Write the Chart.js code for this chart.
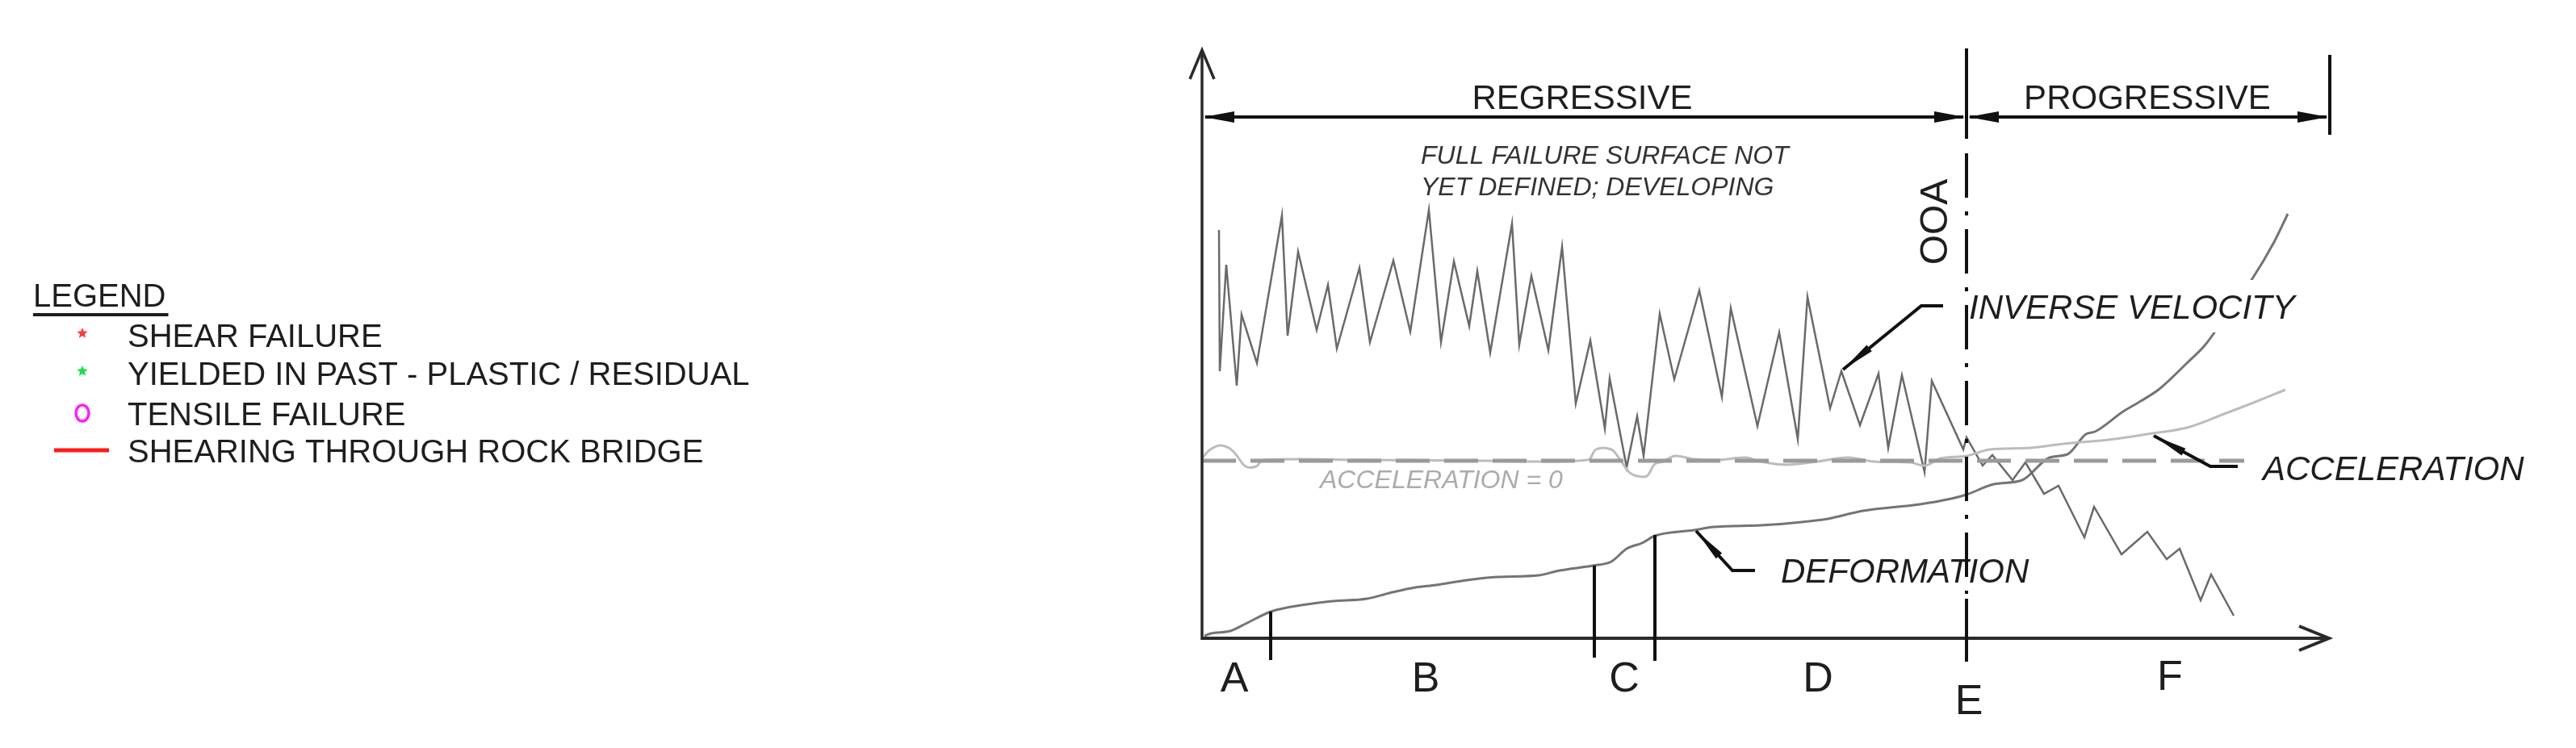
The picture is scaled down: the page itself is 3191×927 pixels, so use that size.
<!DOCTYPE html>
<html><head><meta charset="utf-8">
<script src="https://cdn.jsdelivr.net/npm/chart.js@4/dist/chart.umd.min.js"></script>
<style>html,body{margin:0;padding:0;background:#fff}#wrap{width:3191px;height:927px}</style>
</head><body><div id="wrap"><canvas id="c" width="3191" height="927"></canvas></div>
<script>
// ---- data (time units on x, relative magnitude on y) ----
const invVelT = [21,22,30,43,49,68,99,106,119,142,156,167,195,208,237,258,281,296,312,331,341,357,384,393,408,429,446,463,481,499,505,526,539,547,567,585,616,644,655,688,715,738,750,778,792,815,838,850,867,895,904,943,947,967,979,1004,1020,1043,1061,1093,1105,1139,1171,1195,1211,1237,1250,1278];
const invVelV = [506,331,463,313,401,341,524,375,479,382,438,359,459,367,468,380,531,367,467,387,455,354,514,364,449,357,485,291,369,260,322,212,275,226,402,321,431,299,409,263,379,247,423,285,331,264,328,236,326,206,319,234,249,214,227,196,218,179,189,125,163,104,132,98,111,47,79,28];

const deformT = [3,11,35,54,85,105,137,162,204,232,264,290,328,366,417,443,484,507,526,545,561,609,634,692,743,775,819,889,928,947,981,1016,1050,1072,1095,1106,1141,1163,1186,1220,1243,1276,1300,1328,1345];
const deformV = [3,6,9,18,33,38,43,46,49,56,63,66,72,76,78,84,90,95,111,118,127,134,138,140,144,148,158,166,173,178,191,196,224,228,253,256,281,294,309,341,364,411,444,491,526];

const accelT = [0,9,22,33,41,54,67,76,200,350,478,488,507,516,529,539,551,561,571,586,609,641,673,692,724,762,800,832,877,896,915,947,976,1027,1067,1123,1177,1220,1266,1305,1342];
const accelV = [223,233,239,236,229,213,213,221,221,220,221,234,234,224,206,201,201,216,219,226,222,221,224,219,215,219,224,219,218,214,223,226,234,236,241,246,254,261,278,293,308];

const zeroT = [0,1291];
const zeroV = [220,220];

const phaseLabels = ['A','B','C','D','E','F'];
const phaseLabelT = [40,277,523,763,950,1199];
const phaseLabelV = [-66,-66,-66,-66,-94,-64];
const phaseBoundT = [85,486,561,947];
const phaseBoundTop = [33,90,128,49];
const phaseBoundBottom = [-27,-24,-28,-29];
const ooaT = 947, progressEndT = 1397;

const legendLabels = ['SHEAR FAILURE','YIELDED IN PAST - PLASTIC / RESIDUAL','TENSILE FAILURE','SHEARING THROUGH ROCK BRIDGE'];
const legendColors = ['#ff3b3b','#19e04a','#ff1cff','#ff1a1a'];
const legendMarkers = ['star','star','circle','line'];

// ---- helpers ----
const FONT = '"Liberation Sans", Arial, Helvetica, sans-serif';
const pts = (t,v)=>t.map((a,i)=>({x:a,y:v[i]}));

function filledHead(ctx, tx, ty, fx, fy, len, hw){
  const a = Math.atan2(ty-fy, tx-fx);
  ctx.beginPath();
  ctx.moveTo(tx,ty);
  ctx.lineTo(tx - len*Math.cos(a) + hw*Math.sin(a), ty - len*Math.sin(a) - hw*Math.cos(a));
  ctx.lineTo(tx - len*Math.cos(a) - hw*Math.sin(a), ty - len*Math.sin(a) + hw*Math.cos(a));
  ctx.closePath(); ctx.fill();
}
function star(ctx, cx, cy, r, color){
  ctx.fillStyle=color; ctx.beginPath();
  for(let i=0;i<10;i++){
    const rr = i%2===0 ? r : r*0.45;
    const a = -Math.PI/2 + i*Math.PI/5;
    const px = cx + rr*Math.cos(a), py = cy + rr*Math.sin(a);
    i===0?ctx.moveTo(px,py):ctx.lineTo(px,py);
  }
  ctx.closePath(); ctx.fill();
}

const annot = {
  id:'annot',
  afterDatasetsDraw(chart){
    const {ctx, scales:{x,y}} = chart;
    const X = v=>x.getPixelForValue(v), Y = v=>y.getPixelForValue(v);
    ctx.save();
    ctx.lineCap='butt';

    // ---- INVERSE VELOCITY label with white background ----
    ctx.font = 'italic 42px '+FONT;
    const ivW = ctx.measureText('INVERSE VELOCITY').width;
    ctx.fillStyle='#fff';
    ctx.fillRect(X(950)-6, Y(444), ivW+14, Y(379)-Y(444));
    ctx.fillStyle='#1e1e1e'; ctx.textBaseline='alphabetic'; ctx.textAlign='left';
    ctx.fillText('INVERSE VELOCITY', X(950), Y(396));

    // other labels
    ctx.fillText('ACCELERATION', X(1314), Y(196));
    ctx.fillText('DEFORMATION', X(717), Y(69));
    ctx.font = 'italic 32px '+FONT; ctx.fillStyle='#333';
    ctx.fillText('FULL FAILURE SURFACE NOT', X(271), Y(588));
    ctx.fillText('YET DEFINED; DEVELOPING', X(271), Y(549));
    ctx.fillStyle='#ababab';
    ctx.fillText('ACCELERATION = 0', X(146), Y(186));

    // leaders
    ctx.strokeStyle='#111'; ctx.fillStyle='#111'; ctx.lineWidth=4;
    const leader = (p)=>{ ctx.beginPath(); ctx.moveTo(X(p[0][0]),Y(p[0][1]));
      for(let i=1;i<p.length;i++) ctx.lineTo(X(p[i][0]),Y(p[i][1])); ctx.stroke();
      filledHead(ctx, X(p[p.length-1][0]),Y(p[p.length-1][1]), X(p[p.length-2][0]),Y(p[p.length-2][1]), 42, 5); };
    leader([[918,412],[891,412],[794,333]]);
    leader([[1283,213],[1249,213],[1179,251]]);
    leader([[685,84],[657,84],[612,133]]);

    // axes
    ctx.strokeStyle='#2a2a2a'; ctx.lineWidth=4;
    ctx.beginPath(); ctx.moveTo(X(0),Y(0)); ctx.lineTo(X(1396),Y(0)); ctx.stroke();
    ctx.beginPath(); ctx.moveTo(X(1396)-37,Y(0)-15); ctx.lineTo(X(1396),Y(0)); ctx.lineTo(X(1396)-37,Y(0)+15); ctx.stroke();
    ctx.lineWidth=3.5;
    ctx.beginPath(); ctx.moveTo(X(0),Y(0)+2); ctx.lineTo(X(0),Y(729)); ctx.stroke();
    ctx.beginPath(); ctx.moveTo(X(0)-15,Y(729)+36); ctx.lineTo(X(0),Y(729)); ctx.lineTo(X(0)+15,Y(729)+36); ctx.stroke();

    // phase boundary ticks
    ctx.strokeStyle='#111'; ctx.lineWidth=4;
    phaseBoundT.forEach((t,i)=>{ ctx.beginPath(); ctx.moveTo(X(t),Y(phaseBoundTop[i])); ctx.lineTo(X(t),Y(phaseBoundBottom[i])); ctx.stroke(); });

    // OOA line (solid top then dash-dot)
    ctx.beginPath(); ctx.moveTo(X(ooaT),Y(731)); ctx.lineTo(X(ooaT),Y(619)); ctx.stroke();
    ctx.setLineDash([55,17,5,17]);
    ctx.beginPath(); ctx.moveTo(X(ooaT),Y(601)); ctx.lineTo(X(ooaT),Y(55)); ctx.stroke();
    ctx.setLineDash([]);

    // dimension arrows
    ctx.lineWidth=4;
    const dimY = Y(646);
    ctx.beginPath(); ctx.moveTo(X(0)+4,dimY); ctx.lineTo(X(ooaT)-4,dimY); ctx.stroke();
    ctx.beginPath(); ctx.moveTo(X(ooaT)+4,dimY); ctx.lineTo(X(progressEndT)-4,dimY); ctx.stroke();
    filledHead(ctx, X(0)+2,dimY, X(100),dimY, 38, 7);
    filledHead(ctx, X(ooaT)-2,dimY, X(800),dimY, 38, 7);
    filledHead(ctx, X(ooaT)+2,dimY, X(1100),dimY, 38, 7);
    filledHead(ctx, X(progressEndT)-2,dimY, X(1200),dimY, 38, 7);
    ctx.beginPath(); ctx.moveTo(X(progressEndT),Y(723)); ctx.lineTo(X(progressEndT),Y(624)); ctx.stroke();

    ctx.fillStyle='#1e1e1e'; ctx.textAlign='center'; ctx.textBaseline='alphabetic';
    ctx.font='42px '+FONT;
    ctx.fillText('REGRESSIVE', X(471), Y(656));
    ctx.fillText('PROGRESSIVE', X(1171), Y(656));

    // OOA rotated
    ctx.save(); ctx.font='48px '+FONT; ctx.translate(X(906)+17, Y(516)); ctx.rotate(-Math.PI/2);
    ctx.textAlign='center'; ctx.fillText('OOA',0,0); ctx.restore();

    // phase letters
    ctx.font='52px '+FONT; ctx.textAlign='center';
    phaseLabels.forEach((l,i)=>ctx.fillText(l, X(phaseLabelT[i]), Y(phaseLabelV[i])));

    // ---- legend (left) ----
    ctx.textAlign='left'; ctx.fillStyle='#1e1e1e';
    ctx.font='40px '+FONT;
    ctx.fillText('LEGEND', 41, 380);
    const lw = ctx.measureText('LEGEND').width;
    ctx.fillRect(41, 388, lw+3, 4);
    const rowY = [430,477,527,573];
    legendLabels.forEach((lab,i)=>{
      const cy = rowY[i]-15;
      const m = legendMarkers[i];
      if(m==='star') star(ctx, 102, cy-2, 7, legendColors[i]);
      else if(m==='circle'){ ctx.strokeStyle=legendColors[i]; ctx.lineWidth=3.5; ctx.beginPath(); ctx.ellipse(102, cy, 8, 10, 0, 0, Math.PI*2); ctx.stroke(); }
      else { ctx.strokeStyle=legendColors[i]; ctx.lineWidth=5; ctx.beginPath(); ctx.moveTo(67,cy); ctx.lineTo(135,cy); ctx.stroke(); }
      ctx.fillStyle='#1e1e1e';
      ctx.fillText(lab, 158, rowY[i]);
    });
    ctx.restore();
  }
};

new Chart(document.getElementById('c'), {
  type:'line',
  data:{ datasets:[
    {label:'Acceleration = 0', data:pts(zeroT,zeroV), borderColor:'#9a9a9a', borderWidth:5, borderDash:[42,18], pointRadius:0, tension:0},
    {label:'Acceleration', data:pts(accelT,accelV), borderColor:'#bcbcbc', borderWidth:3, pointRadius:0, tension:0.35},
    {label:'Inverse velocity', data:pts(invVelT,invVelV), borderColor:'#6a6a6a', borderWidth:2.5, pointRadius:0, tension:0},
    {label:'Deformation', data:pts(deformT,deformV), borderColor:'#747474', borderWidth:3, pointRadius:0, cubicInterpolationMode:'monotone'}
  ]},
  options:{
    responsive:false, animation:false, devicePixelRatio:1,
    layout:{padding:{left:1489, right:302, top:61, bottom:136}},
    scales:{ x:{type:'linear', min:0, max:1400, display:false}, y:{min:0, max:730, display:false} },
    plugins:{ legend:{display:false}, tooltip:{enabled:false} },
    elements:{ line:{borderCapStyle:'butt', borderJoinStyle:'miter'} }
  },
  plugins:[annot]
});
</script></body></html>
